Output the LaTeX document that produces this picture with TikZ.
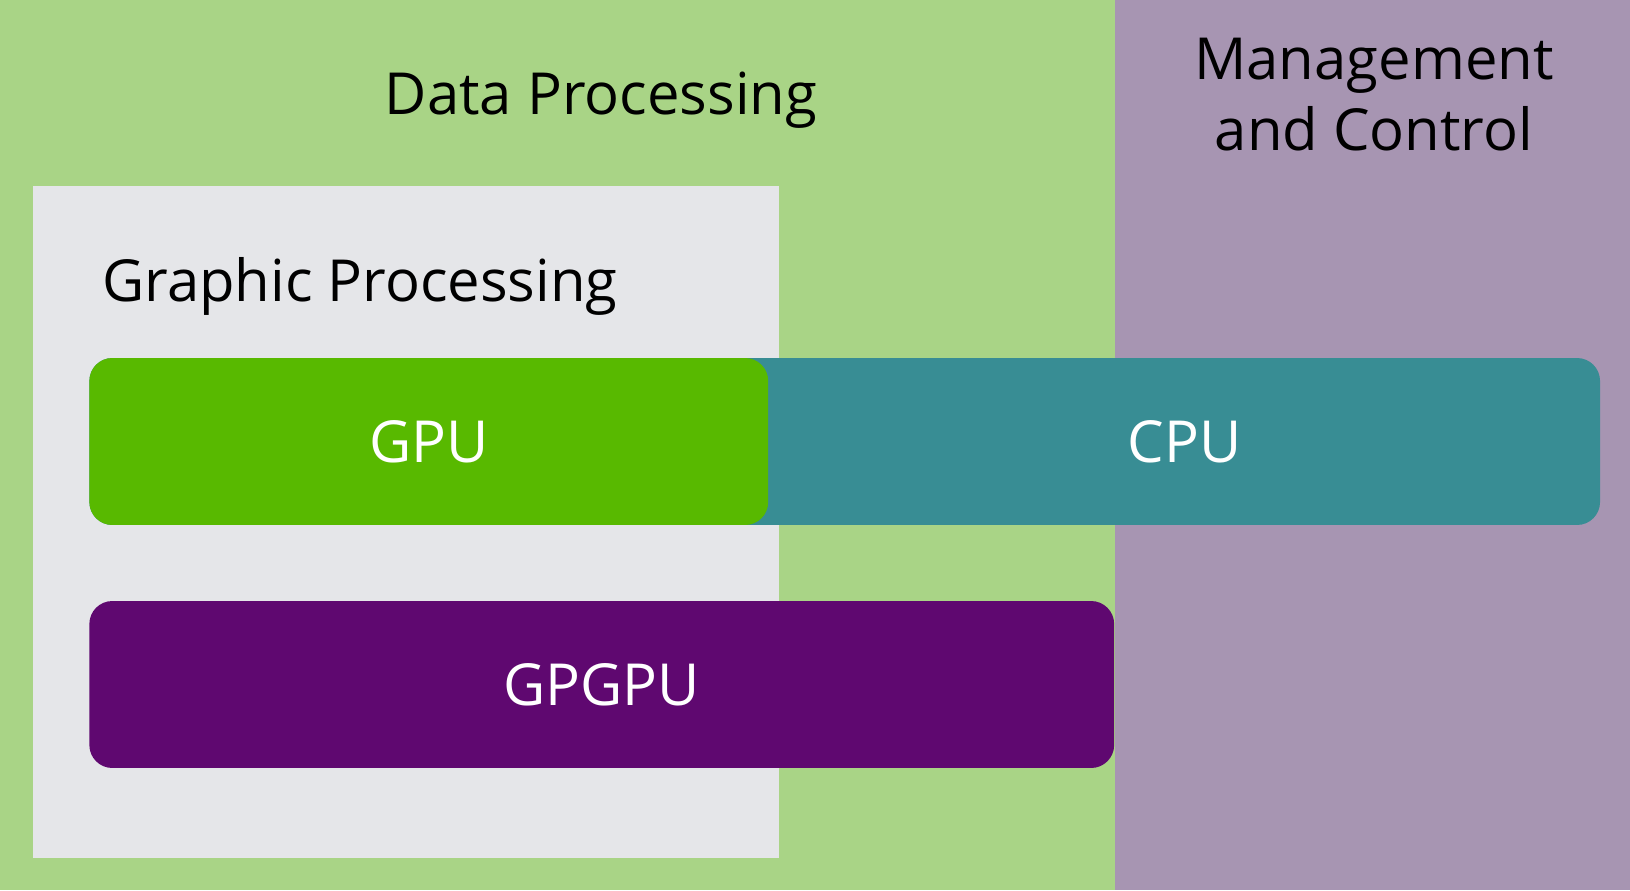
\documentclass[tikz,border=0pt]{standalone}
\usepackage{fontspec}
\setmainfont{Open Sans}
\usetikzlibrary{positioning,calc}

\definecolor{dataGreen}{HTML}{A9D486}
\definecolor{ctrlPurple}{HTML}{A795B2}
\definecolor{graphGrey}{HTML}{E5E6E9}
\definecolor{gpuGreen}{HTML}{58B900}
\definecolor{cpuTeal}{HTML}{388D94}
\definecolor{gpgpuPurple}{HTML}{5F0870}

\tikzset{
    region/.style={
        rectangle,
        inner sep=0pt,
        anchor=north west
    },
    unit/.style={
        rectangle,
        rounded corners=0.46cm,
        minimum height=3.34cm,
        inner sep=0pt,
        anchor=west,
        text=white,
        font=\fontsize{33}{40}\selectfont
    },
    unitlabel/.style={
        text=white,
        inner sep=0pt,
        font=\fontsize{33}{40}\selectfont
    },
    heading/.style={
        align=center,
        inner sep=0pt,
        font=\fontsize{33}{40.5}\selectfont
    }
}

\begin{document}
\begin{tikzpicture}[x=0.02cm, y=-0.02cm]
    \useasboundingbox (0,0) rectangle (1630,890);
    % background areas
    \node[region, fill=dataGreen, minimum width=22.3cm, minimum height=17.8cm] (data) at (0,0) {};
    \node[region, fill=ctrlPurple, minimum width=10.3cm, minimum height=17.8cm] (ctrl) at (1115,0) {};
    \node[region, fill=graphGrey, minimum width=14.92cm, minimum height=13.44cm] (graph) at (33,186) {};
    \node[heading, anchor=base] (dataTitle) at (601,114.5) {Data Processing};
    \node[heading] (ctrlTitle) at (1374,95) {Management\\and Control};
    \node[heading, anchor=base west] (graphTitle) at (102,301.5) {Graphic Processing};
    % processing units
    \node[unit, fill=cpuTeal, minimum width=30.22cm] (cpu) at (89,441.5) {};
    \node[unit, fill=gpuGreen, minimum width=13.58cm] (gpu) at (89,441.5) {GPU};
    \node[unitlabel] (cpuLabel) at ($(gpu.east)!0.5!(cpu.east)$) {CPU};
    \node[unit, fill=gpgpuPurple, minimum width=20.5cm] (gpgpu) at (89,684.5) {GPGPU};
\end{tikzpicture}
\end{document}
